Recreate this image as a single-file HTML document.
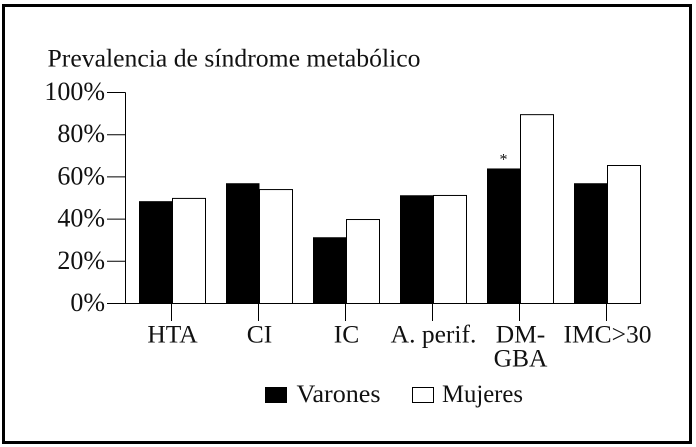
<!DOCTYPE html>
<html>
<head>
<meta charset="utf-8">
<style>
html,body{margin:0;padding:0;background:#fff;}
svg{display:block;}
text{font-family:"Liberation Serif",serif;fill:#111;}
</style>
</head>
<body>
<svg id="chart" width="696" height="447" viewBox="0 0 696 447" xmlns="http://www.w3.org/2000/svg">
<rect x="0" y="0" width="696" height="447" fill="#fff"/>
<rect x="3.5" y="5.5" width="687" height="437" fill="none" stroke="#000" stroke-width="3"/>
<text x="47.5" y="66.5" font-size="25.5" textLength="373" lengthAdjust="spacingAndGlyphs">Prevalencia de síndrome metabólico</text>
<g id="plot"></g>
<rect x="265" y="387" width="22" height="16" fill="#000"/>
<text x="296.5" y="402" font-size="25" textLength="84" lengthAdjust="spacingAndGlyphs">Varones</text>
<rect x="412.5" y="387.5" width="21" height="15" fill="#fff" stroke="#000" stroke-width="1"/>
<text x="442" y="402" font-size="25" textLength="81" lengthAdjust="spacingAndGlyphs">Mujeres</text>
</svg>
<script>
const categories = [["HTA"], ["CI"], ["IC"], ["A. perif."], ["DM-", "GBA"], ["IMC>30"]];
const varones = [48.5, 57, 31.4, 51.3, 64, 57];
const mujeres = [49.8, 54, 39.8, 51.2, 89.5, 65.4];
const yTicks = [0, 20, 40, 60, 80, 100];
const yTickLabels = ["0%", "20%", "40%", "60%", "80%", "100%"];
const annotations = ["", "", "", "", "*", ""];

const NS = "http://www.w3.org/2000/svg";
const plot = document.getElementById("plot");
const axisX = 125.5;
const axisY0 = 303.5;
const axisTop = 92.5;
const groupStep = 87;
const firstTick = 171.5;

function yScale(v) { return axisY0 - (v / 100) * (axisY0 - axisTop); }
function xScale(i) { return firstTick + i * groupStep; }
function make(tag, attrs, parent) {
  const el = document.createElementNS(NS, tag);
  for (const k in attrs) el.setAttribute(k, attrs[k]);
  parent.appendChild(el);
  return el;
}

categories.forEach(function (lines, i) {
  const cx = xScale(i);
  const b = make("rect", { x: cx - 32.5, y: yScale(varones[i]), width: 33.5, height: axisY0 - yScale(varones[i]), fill: "#000" }, plot);
  
  
  const w = make("rect", { x: cx + 1, y: yScale(mujeres[i]), width: 33, height: axisY0 - yScale(mujeres[i]), fill: "#fff", stroke: "#000", "stroke-width": 1 }, plot);
  
  
  const tick = make("line", { x1: cx, x2: cx, y1: axisY0, y2: 321, stroke: "#000", "stroke-width": 1 }, plot);
  
  
  lines.forEach(function (line, j) {
    const t = make("text", { x: cx + 1, y: 342.5 + j * 24, "font-size": 25.5, "text-anchor": "middle" }, plot);
    t.textContent = line;
    
    
  });
  if (annotations[i]) {
    const a = make("text", { x: cx - 16, y: yScale(varones[i]) - 4, "font-size": 16, "text-anchor": "middle", fill: "#444" }, plot);
    a.textContent = annotations[i];
    
    
  }
});

yTicks.forEach(function (v, i) {
  const y = yScale(v);
  const tick = make("line", { x1: 107, x2: axisX, y1: y, y2: y, stroke: "#000", "stroke-width": 1 }, plot);
  
  
  const t = make("text", { x: 105, y: y + 7.5, "font-size": 26, "text-anchor": "end" }, plot);
  t.textContent = yTickLabels[i];
  
  
});

const yAxis = make("line", { x1: axisX, x2: axisX, y1: axisTop, y2: axisY0, stroke: "#000", "stroke-width": 1 }, plot);


const xAxis = make("line", { x1: 107, x2: xScale(categories.length - 1) + 34, y1: axisY0, y2: axisY0, stroke: "#000", "stroke-width": 1 }, plot);


</script>
</body>
</html>
